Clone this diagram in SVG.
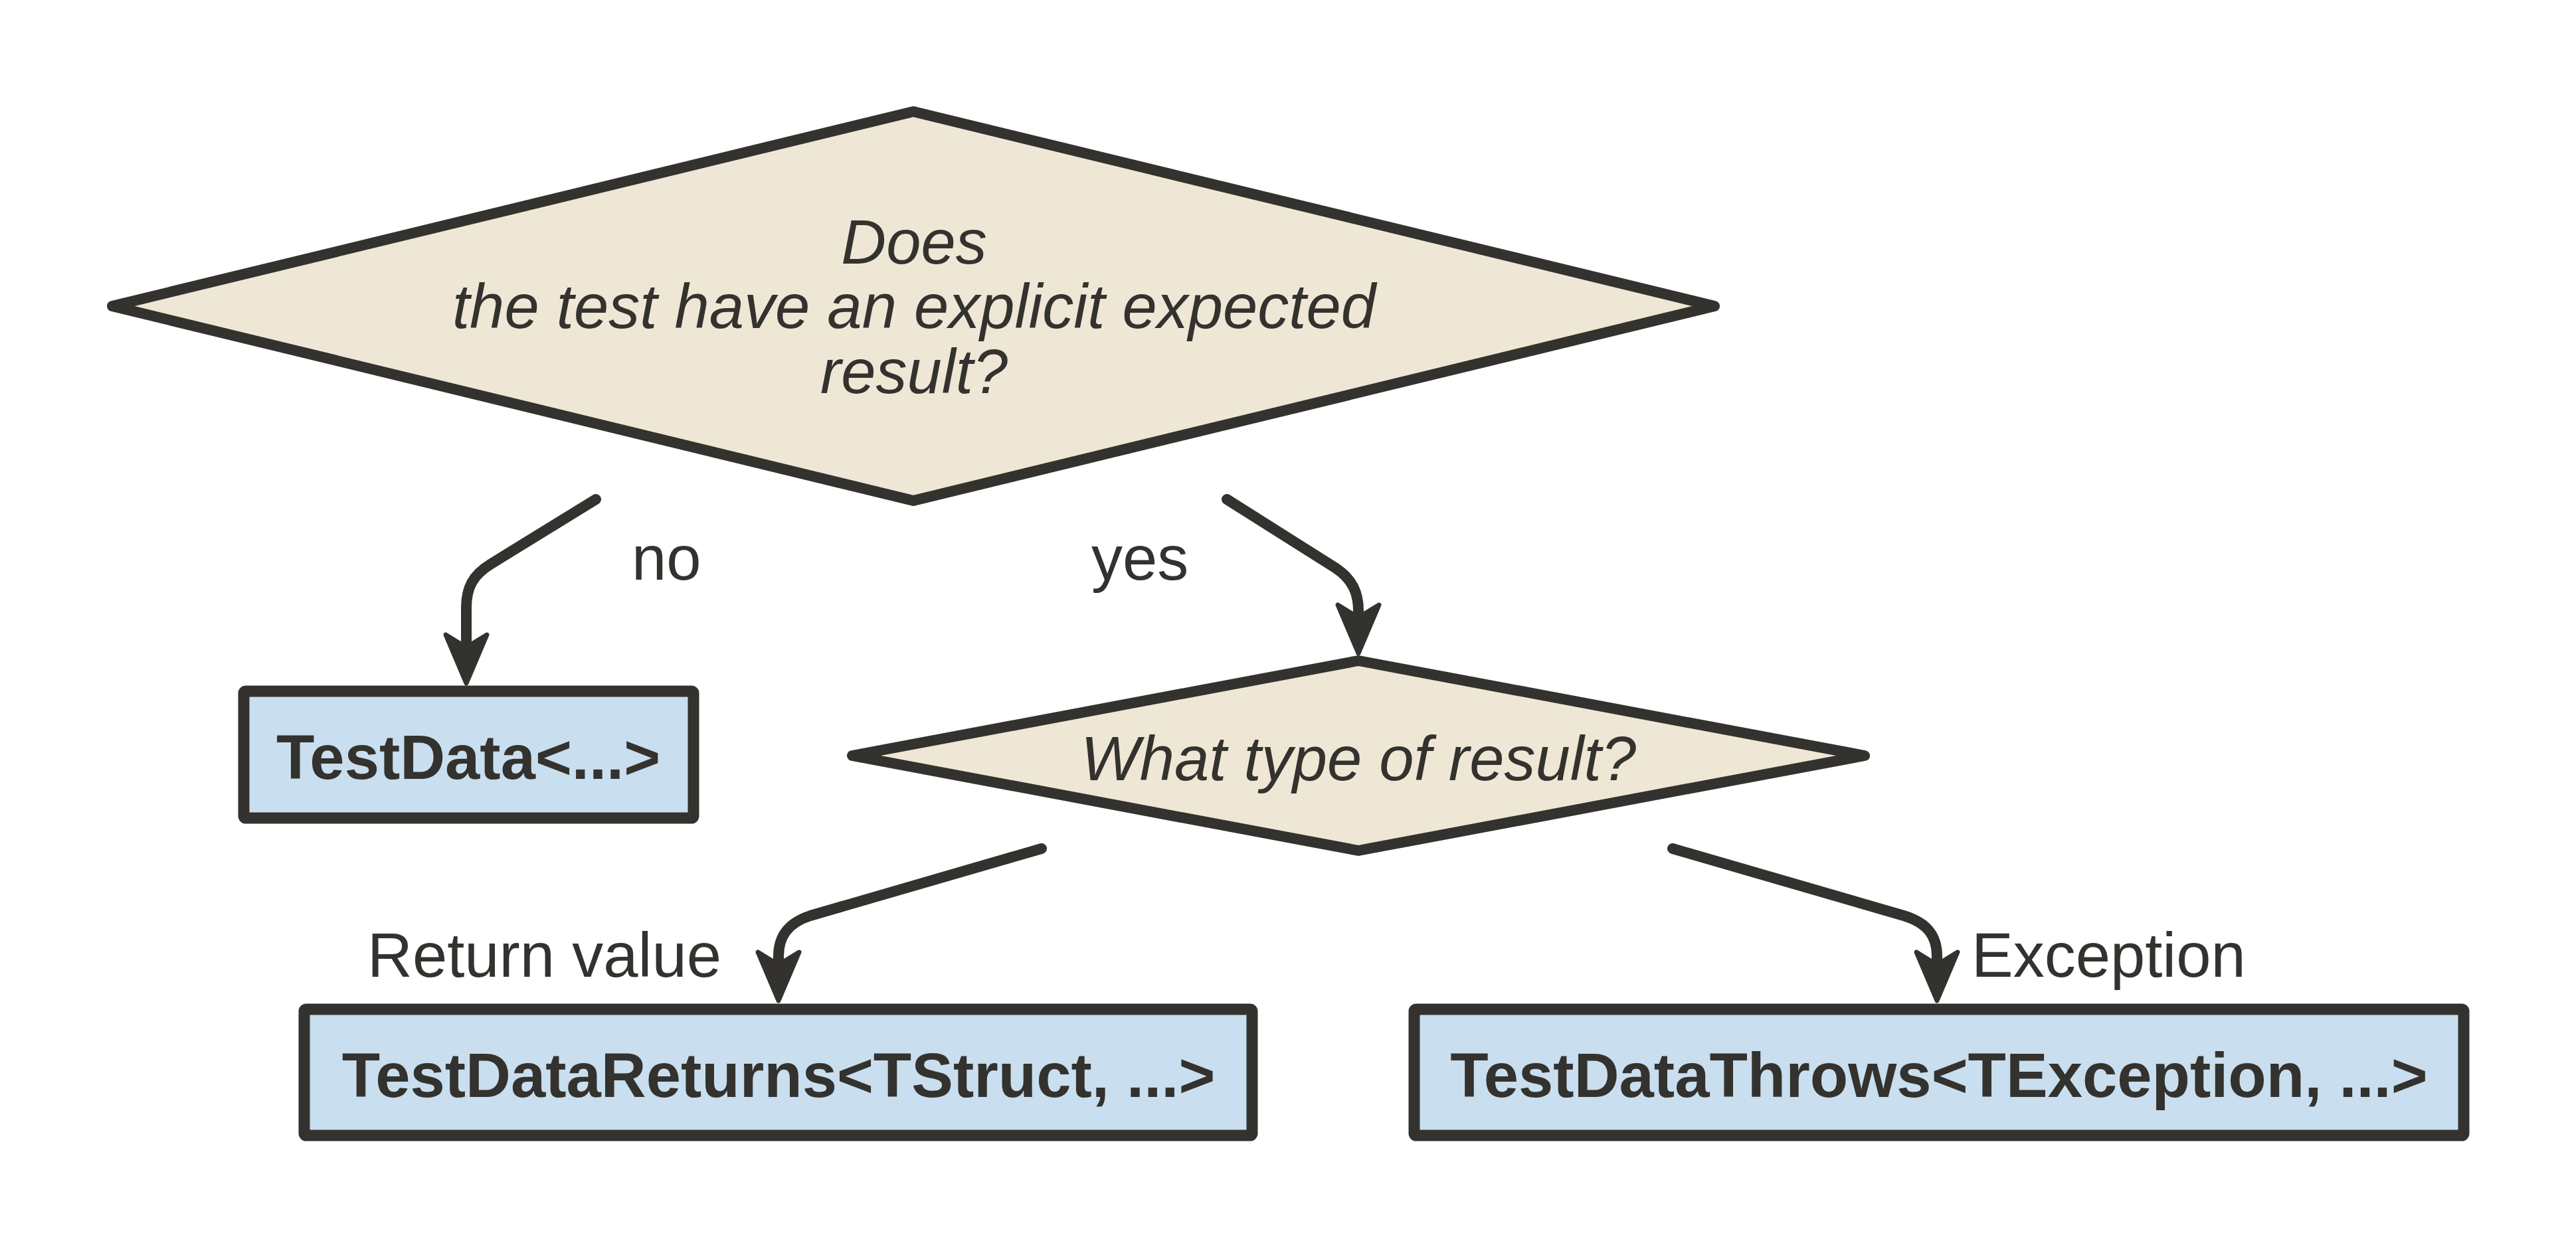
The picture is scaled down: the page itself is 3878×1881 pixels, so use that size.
<svg xmlns="http://www.w3.org/2000/svg" width="3878" height="1881" viewBox="0 0 3878 1881">
<style>
.bg{fill:#ffffff}
.dec{fill:#EEE7D5;stroke:#33322E;stroke-width:16;stroke-linejoin:round}
.box{fill:#C9DEEE;stroke:#33322E;stroke-width:17;stroke-linejoin:round}
.q{font-family:"Liberation Sans",Arial,sans-serif;font-style:italic;font-size:94px;fill:#33322E;text-anchor:middle}
.t{font-family:"Liberation Sans",Arial,sans-serif;font-weight:bold;font-size:94px;fill:#33322E;text-anchor:middle}
.lbl{font-family:"Liberation Sans",Arial,sans-serif;font-size:94px;fill:#33322E}
.edge{fill:none;stroke:#33322E;stroke-width:16;stroke-linecap:round;stroke-linejoin:round}
</style>
<defs>
<marker id="arr" markerUnits="userSpaceOnUse" viewBox="-30 -45 95 90" markerWidth="95" markerHeight="90" refX="0" refY="0" orient="auto" overflow="visible">
<path d="M54,0 L-19,-31 L0,0 L-19,31 Z" fill="#33322E" stroke="#33322E" stroke-width="7" stroke-linejoin="round"/>
</marker>
</defs>
<rect class="bg" x="0" y="0" width="3878" height="1881"/>
<g id="connectors">
<path class="edge" d="M897,752 L738,850 C712,866 702,885 702,915 L702,975" marker-end="url(#arr)"/>
<path class="edge" d="M1847,752 L2010,855 C2036,872 2045,893 2045,920 L2045,930" marker-end="url(#arr)"/>
<path class="edge" d="M1568,1278 L1220,1379 C1186,1390 1172,1410 1172,1440 L1172,1453" marker-end="url(#arr)"/>
<path class="edge" d="M2518,1278 L2866,1379 C2902,1390 2916,1410 2916,1440 L2916,1453" marker-end="url(#arr)"/>
<text class="lbl" x="951" y="873">no</text>
<text class="lbl" x="1643" y="873">yes</text>
<text class="lbl" x="553" y="1471">Return value</text>
<text class="lbl" x="2968" y="1471">Exception</text>
</g>
<g id="q1">
<polygon class="dec" points="169,461 1375,168 2581,461 1375,754"/>
<text class="q" x="1376" y="397">Does</text>
<text class="q" x="1376" y="494">the test have an explicit expected</text>
<text class="q" x="1376" y="592">result?</text>
</g>
<g id="q2">
<polygon class="dec" points="1283,1138 2045,995 2807,1138 2045,1281"/>
<text class="q" x="2045" y="1175">What type of result?</text>
</g>
<g id="testdata">
<rect class="box" x="367" y="1041" width="677" height="191" rx="3"/>
<text class="t" x="705" y="1173">TestData&lt;...&gt;</text>
</g>
<g id="returns">
<rect class="box" x="458" y="1520" width="1427" height="190" rx="3"/>
<text class="t" x="1172" y="1652">TestDataReturns&lt;TStruct, ...&gt;</text>
</g>
<g id="throws">
<rect class="box" x="2129" y="1520" width="1580" height="190" rx="3"/>
<text class="t" x="2919" y="1652">TestDataThrows&lt;TException, ...&gt;</text>
</g>
</svg>
